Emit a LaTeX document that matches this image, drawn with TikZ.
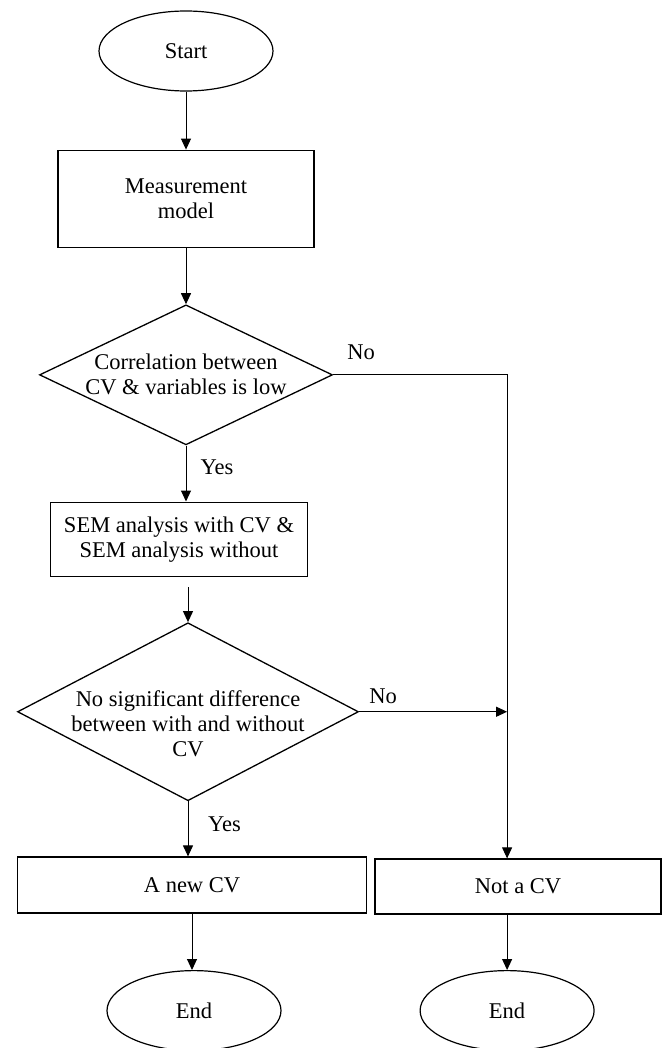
\documentclass[tikz,border=0pt]{standalone}
\usepackage{fontspec}
\setmainfont{Liberation Serif}
\usetikzlibrary{arrows.meta,positioning,shapes.geometric}

\begin{document}
\begin{tikzpicture}[
    font=\fontsize{11.25}{12.5}\selectfont,
    terminal/.style={ellipse, draw, line width=0.6pt, minimum width=87pt, minimum height=40pt, inner sep=0pt},
    box/.style={rectangle, draw, line width=0.8pt, inner sep=0pt, align=center},
    decision/.style={diamond, draw, line width=0.65pt, inner sep=0pt},
    arrow/.style={-{Triangle[length=5.5pt,width=5pt]}, line width=0.5pt}
]
    \useasboundingbox (0,0) rectangle (330.5pt,-524pt);

    % Start
    \node[terminal] (start) at (93pt,-25.5pt) {Start};

    % Main column
    \node[box, minimum width=128pt, minimum height=48.5pt, below=29pt of start] (measure) {Measurement\\model};
    \node[decision, minimum width=146.5pt, minimum height=70pt, below=28pt of measure,
        label={[align=center]center:Correlation between\\CV \& variables is low}] (corr) {};
    \node[box, minimum width=128.5pt, minimum height=37pt, below=28pt of corr, xshift=-3.5pt] (sem) {SEM analysis with CV \&\\SEM analysis without};
    \node[decision, minimum width=170.5pt, minimum height=89pt, below=22.5pt of sem, xshift=4.5pt,
        label={[align=center,yshift=-6pt]center:No significant difference\\between with and without\\CV}] (diff) {};

    % Outcomes
    \node[box, minimum width=174.5pt, minimum height=28pt, below=27.5pt of diff, xshift=2pt] (newcv) {A new CV};
    \node[box, minimum width=143pt, minimum height=27.5pt, right=3.5pt of newcv, yshift=-0.75pt] (notcv) {Not a CV};
    \node[terminal, below=28pt of newcv, xshift=1pt] (endl) {End};
    \node[terminal, below=27.5pt of notcv, xshift=-5.5pt] (endr) {End};

    % Labels
    \node (nocorr) at ([xshift=14pt,yshift=11.5pt]corr.east) {No};
    \node (yescorr) at ([xshift=15.5pt,yshift=-11pt]corr.south) {Yes};
    \node (nodiff) at ([xshift=12pt,yshift=8pt]diff.east) {No};
    \node (yesdiff) at ([xshift=18.25pt,yshift=-11.5pt]diff.south) {Yes};

    % Arrows
    \draw[arrow] (start) -- (measure);
    \draw[arrow] (measure) -- (corr);
    \draw[arrow] (corr.south) -- (corr.south |- sem.north);
    \draw[arrow] ([yshift=-5pt]sem.south -| diff.north) -- (diff.north);
    \draw[arrow] (corr.east) -| (notcv.north -| endr.north);
    \draw[arrow] (diff.east) -- (diff.east -| endr.north);
    \draw[arrow] (diff.south) -- (diff.south |- newcv.north);
    \draw[arrow] (newcv.south) -- (newcv.south |- endl.north);
    \draw[arrow] (notcv.south -| endr.north) -- (endr.north);

\end{tikzpicture}
\end{document}
